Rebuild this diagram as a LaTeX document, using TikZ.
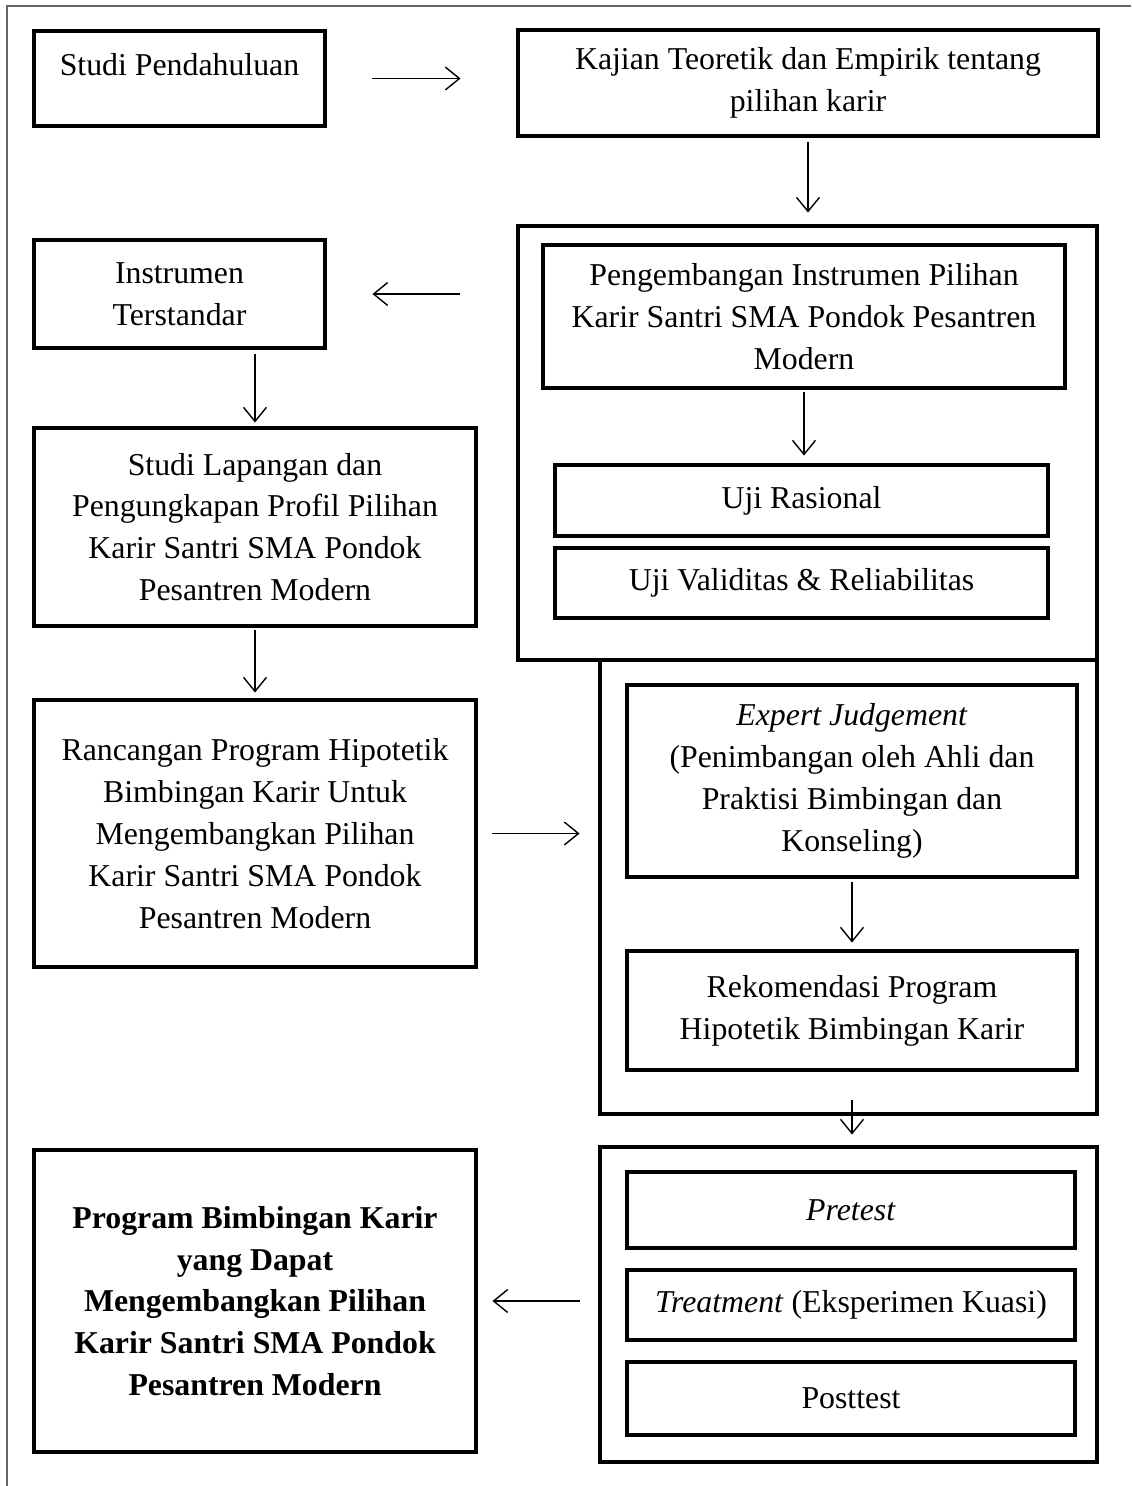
\documentclass[tikz,border=0pt]{standalone}
\usepackage{fontspec}
\setmainfont{Liberation Serif}
\usepackage{tikz}
\usetikzlibrary{positioning,arrows.meta,calc}

\begin{document}
\begin{tikzpicture}[
  box/.style={draw, rectangle, line width=2.8pt, align=center, inner sep=2pt, font=\fontsize{18.1}{23.8}\selectfont},
  outer/.style={draw, rectangle, line width=2.8pt, inner sep=0pt},
  arr/.style={-{Straight Barb[length=8pt,width=13pt]}, line width=0.8pt},
]
  \useasboundingbox (0,0) rectangle (22.62,-29.72);
  \draw[line width=0.8pt, black!60] (0.14,-29.72) -- (0.14,-0.12) -- (22.62,-0.12);

  % left column
  \node[box, minimum width=5.82cm, minimum height=1.9cm, text depth=0.55cm] (stud) at (3.59,-1.57) {Studi Pendahuluan};
  \node[box, minimum width=5.82cm, minimum height=2.16cm] (inst) at (3.59,-5.88) {Instrumen\\Terstandar};
  \node[box, minimum width=8.84cm, minimum height=3.96cm] (lap) at (5.1,-10.54) {Studi Lapangan dan\\Pengungkapan Profil Pilihan\\Karir Santri SMA Pondok\\Pesantren Modern};
  \node[box, minimum width=8.84cm, minimum height=5.34cm] (ranc) at (5.1,-16.67) {Rancangan Program Hipotetik\\Bimbingan Karir Untuk\\Mengembangkan Pilihan\\Karir Santri SMA Pondok\\Pesantren Modern};
  \node[box, minimum width=8.84cm, minimum height=6.04cm, font=\fontsize{18.1}{23.8}\selectfont\bfseries] (prog) at (5.1,-26.02) {Program Bimbingan Karir\\yang Dapat\\Mengembangkan Pilihan\\Karir Santri SMA Pondok\\Pesantren Modern};

  % right column
  \node[box, minimum width=11.6cm, minimum height=2.12cm] (kaj) at (16.16,-1.66) {Kajian Teoretik dan Empirik tentang\\pilihan karir};
  \node[outer, minimum width=11.58cm, minimum height=8.68cm] (cont1) at (16.15,-8.86) {};
  \node[box, minimum width=10.44cm, minimum height=2.86cm] (peng) at (16.08,-6.33) {Pengembangan Instrumen Pilihan\\Karir Santri SMA Pondok Pesantren\\Modern};
  \node[box, minimum width=9.86cm, minimum height=1.42cm] (rasi) at (16.03,-10.01) {Uji Rasional};
  \node[box, minimum width=9.86cm, minimum height=1.4cm] (vali) at (16.03,-11.66) {Uji Validitas \& Reliabilitas};

  \node[outer, minimum width=9.94cm, minimum height=9.08cm] (cont2) at (16.97,-17.74) {};
  \node[box, minimum width=9.0cm, minimum height=3.84cm] (expj) at (17.04,-15.62) {\textit{Expert Judgement}\\(Penimbangan oleh Ahli dan\\Praktisi Bimbingan dan\\Konseling)};
  \node[box, minimum width=9.0cm, minimum height=2.38cm] (reko) at (17.04,-20.21) {Rekomendasi Program\\Hipotetik Bimbingan Karir};

  \node[outer, minimum width=9.94cm, minimum height=6.3cm] (cont3) at (16.97,-26.09) {};
  \node[box, minimum width=8.96cm, minimum height=1.52cm] (pre) at (17.02,-24.2) {\textit{Pretest}};
  \node[box, minimum width=8.96cm, minimum height=1.4cm] (treat) at (17.02,-26.1) {\textit{Treatment} (Eksperimen Kuasi)};
  \node[box, minimum width=8.96cm, minimum height=1.46cm] (post) at (17.02,-27.97) {Posttest};

  % connectors
  \draw[arr, shorten <=0.9cm, shorten >=1.1cm] (stud.east) -- (stud.east -| kaj.west);
  \draw[arr, shorten <=0.08cm, shorten >=0.22cm] (kaj.south) -- (kaj.south |- cont1.north);
  \draw[arr, shorten <=1.12cm, shorten >=0.9cm] (inst.east -| cont1.west) -- (inst.east);
  \draw[arr, shorten <=0.04cm, shorten >=0.14cm] (peng.south) -- (peng.south |- rasi.north);
  \draw[arr, shorten <=0.08cm, shorten >=0.06cm] (inst.south -| lap.north) -- (lap.north);
  \draw[arr, shorten <=0.04cm, shorten >=0.1cm] (lap.south) -- (ranc.north);
  \draw[arr, shorten <=0.28cm, shorten >=0.36cm] (ranc.east) -- (ranc.east -| cont2.west);
  \draw[arr, shorten <=0.06cm, shorten >=0.12cm] (expj.south) -- (reko.north);
  \draw[arr, shorten <=0.56cm, shorten >=0.2cm] (reko.south) -- (reko.south |- cont3.north);
  \draw[arr, shorten <=0.36cm, shorten >=0.28cm] (prog.east -| cont3.west) -- (prog.east);
\end{tikzpicture}
\end{document}
